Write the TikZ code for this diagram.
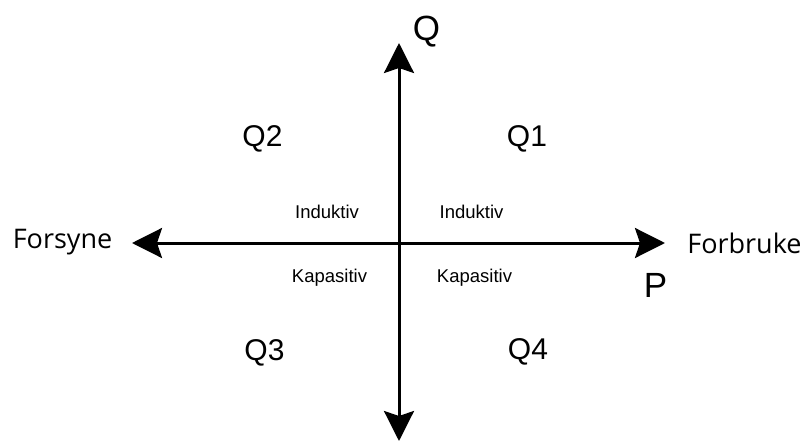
\documentclass[tikz,border=0pt]{standalone}
\usepackage{fontspec}
\setmainfont{Liberation Sans}
\newfontfamily\opensans{Open Sans}
\usetikzlibrary{arrows.meta}
\tikzset{
  axis/.style={line width=3pt, {Stealth[length=30pt,width=30pt,inset=5pt]}-{Stealth[length=30pt,width=30pt,inset=5pt]}},
  quad/.style={inner sep=0pt, anchor=base, font=\fontsize{30}{36}\selectfont},
  axlbl/.style={inner sep=0pt, anchor=base, font=\fontsize{35}{42}\selectfont},
  side/.style={inner sep=0pt, anchor=base, font=\opensans\fontsize{27}{32}\selectfont},
  small/.style={inner sep=0pt, anchor=base, font=\fontsize{18.5}{22}\selectfont}
}
\begin{document}
\begin{tikzpicture}[x=1pt,y=-1pt]
\useasboundingbox (0,0) rectangle (807,442);
\coordinate (top) at (399,43);
\coordinate (bottom) at (399,441);
\coordinate (left) at (132,243);
\coordinate (right) at (665,243);
\draw[axis] (bottom) -- (top);
\draw[axis] (left) -- (right);
\node[axlbl] (qlbl) at (426.5,40) {Q};
\node[axlbl] (plbl) at (655.5,297) {P};
\node[quad] (q1) at (527,146) {Q1};
\node[quad] (q2) at (262.5,146) {Q2};
\node[quad] (q3) at (264.5,360) {Q3};
\node[quad] (q4) at (528,359) {Q4};
\node[side] (fs) at (62.5,248) {Forsyne};
\node[side] (fb) at (744.5,253) {Forbruke};
\node[small] (il) at (327,218) {Induktiv};
\node[small] (ir) at (471.5,218) {Induktiv};
\node[small] (kl) at (329.5,282) {Kapasitiv};
\node[small] (kr) at (474.5,282) {Kapasitiv};
\end{tikzpicture}
\end{document}
